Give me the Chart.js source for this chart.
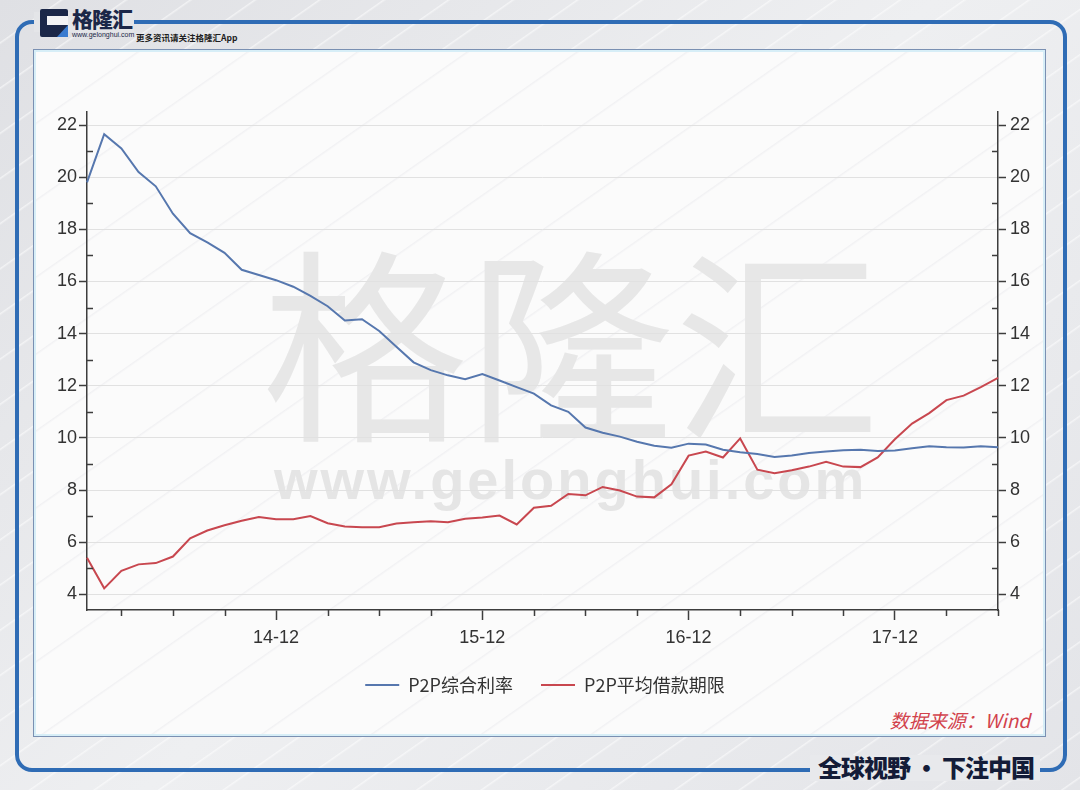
<!DOCTYPE html>
<html>
<head>
<meta charset="utf-8">
<script src="https://cdn.jsdelivr.net/npm/chart.js@4.4.1/dist/chart.umd.min.js"></script>
<style>
  html, body { margin: 0; padding: 0; }
  body {
    width: 1080px; height: 790px; position: relative; overflow: hidden;
    background-color: #e6e7ea;
    background-image:
      repeating-linear-gradient(145deg, rgba(255,255,255,0) 0px, rgba(255,255,255,0) 34px, rgba(255,255,255,0.55) 35px, rgba(255,255,255,0) 37px),
      linear-gradient(135deg, #dfe0e4 0%, #eeeff1 50%, #e3e4e8 100%);
    font-family: "Noto Sans CJK SC", "Liberation Sans", sans-serif;
  }
  .abs { position: absolute; }
  #frame { left: 15px; top: 20px; width: 1044px; height: 744px; border: 4px solid #2f6cb5; border-radius: 17px; }
  #inner { left: 33px; top: 49px; width: 1011px; height: 686px; border: 1.5px solid #7a90b2;
           box-shadow: inset 0 0 0 2px #d7eef7; background: #fbfbfb;
           background-image: repeating-linear-gradient(145deg, rgba(235,235,238,0) 0px, rgba(235,235,238,0) 60px, rgba(232,232,236,0.5) 61px, rgba(235,235,238,0) 63px); }
  #wm1 { left: 262px; top: 232px; font-family: "Noto Sans CJK SC"; font-size: 206px; line-height: 1; color: #e7e7e7; font-weight: 400; white-space: nowrap; }
  #wm2 { left: 274px; top: 446px; font-family: "Liberation Sans", Arial, sans-serif; font-weight: bold; font-size: 56px; letter-spacing: 3px; line-height: 1.2; color: #e5e5e5; white-space: nowrap; }
  #cover1 { left: 34px; top: 12px; width: 100px; height: 20px; background: #e4e5e8; }
  #cover2 { left: 810px; top: 755px; width: 230px; height: 26px; background: #e8e9ec; }
  #icon { left: 40px; top: 9px; width: 28px; height: 28px; background: #1b2748; border-radius: 2px; }
  #iconIn { left: 47px; top: 16px; width: 21px; height: 9px; background: #f3f3f5; }
  #iconTri { left: 57px; top: 25px; width: 0; height: 0; border-left: 11px solid transparent; border-bottom: 12px solid #3a7bd0; }
  #logoText { left: 72px; top: 6px; font-size: 21px; font-weight: 900; color: #1b2748; line-height: 1.2; letter-spacing: -1px; white-space: nowrap; }
  #logoUrl { left: 72px; top: 31px; font-size: 7px; font-family: "Liberation Sans", sans-serif; color: #1b2748; white-space: nowrap; }
  #logoSub { left: 136px; top: 32px; font-size: 8.5px; font-weight: 700; color: #1e1e22; white-space: nowrap; line-height: 1.2; }
  #slogan { left: 818px; top: 751px; font-size: 24px; font-weight: 900; color: #141c38; white-space: nowrap; line-height: 1.3; letter-spacing: -1px; }
  #source { right: 50px; top: 708px; font-size: 19px; font-style: italic; color: #d2424c; white-space: nowrap; line-height: 1.3; }
  canvas { position: absolute; left: 0; top: 0; }
</style>
</head>
<body>
<div id="frame" class="abs"></div>
<div id="cover1" class="abs"></div>
<div id="cover2" class="abs"></div>
<div id="inner" class="abs"></div>
<div id="wm1" class="abs">格隆汇</div>
<div id="wm2" class="abs">www.gelonghui.com</div>
<div id="icon" class="abs"></div>
<div id="iconIn" class="abs"></div>
<div id="iconTri" class="abs"></div>
<div id="logoText" class="abs">格隆汇</div>
<div id="logoUrl" class="abs">www.gelonghui.com</div>
<div id="logoSub" class="abs">更多资讯请关注格隆汇App</div>
<div id="source" class="abs">数据来源：Wind</div>
<div id="slogan" class="abs">全球视野 • 下注中国</div>
<canvas id="c" width="1080" height="790"></canvas>
<script>
// ---- data ----
const months = [
  '14-01','14-02','14-03','14-04','14-05','14-06','14-07','14-08','14-09','14-10','14-11','14-12',
  '15-01','15-02','15-03','15-04','15-05','15-06','15-07','15-08','15-09','15-10','15-11','15-12',
  '16-01','16-02','16-03','16-04','16-05','16-06','16-07','16-08','16-09','16-10','16-11','16-12',
  '17-01','17-02','17-03','17-04','17-05','17-06','17-07','17-08','17-09','17-10','17-11','17-12',
  '18-01','18-02','18-03','18-04','18-05','18-06'
];
const xTickLabels = ['14-12','15-12','16-12','17-12'];
const rateName = 'P2P综合利率';
const rateValues = [
  19.8, 21.65, 21.1, 20.2, 19.65, 18.6, 17.85, 17.5, 17.1, 16.45, 16.25, 16.05,
  15.8, 15.45, 15.05, 14.5, 14.55, 14.1, 13.5, 12.9, 12.6, 12.4, 12.25, 12.45,
  12.2, 11.95, 11.7, 11.25, 11.0, 10.4, 10.2, 10.05, 9.85, 9.7, 9.62, 9.78,
  9.75, 9.55, 9.45, 9.38, 9.27, 9.33, 9.42, 9.48, 9.53, 9.55, 9.5, 9.52,
  9.6, 9.68, 9.64, 9.63, 9.68, 9.64
];
const termName = 'P2P平均借款期限';
const termValues = [
  5.4, 4.23, 4.9, 5.15, 5.2, 5.45, 6.15, 6.45, 6.65, 6.82, 6.97, 6.88,
  6.88, 7.0, 6.73, 6.6, 6.57, 6.57, 6.72, 6.77, 6.8, 6.77, 6.9, 6.95,
  7.02, 6.68, 7.32, 7.4, 7.85, 7.8, 8.12, 7.98, 7.75, 7.72, 8.22, 9.32,
  9.48, 9.25, 9.98, 8.78, 8.65, 8.76, 8.9, 9.08, 8.9, 8.88, 9.25, 9.95,
  10.55, 10.95, 11.45, 11.62, 11.95, 12.3
];
const yMajorTicks = [4, 6, 8, 10, 12, 14, 16, 18, 20, 22];
const yMinorTicks = [5, 7, 9, 11, 13, 15, 17, 19, 21];
const yMin = 3.4, yMax = 22.5;

const BLUE = '#5677ae';
const RED = '#c8474f';
const AXIS = '#3d3d3d';

const minorTicksPlugin = {
  id: 'minorTicks',
  afterDraw(chart) {
    const { ctx, scales } = chart;
    const x = scales.x, yl = scales.y, yr = scales.y1;
    ctx.save();
    ctx.strokeStyle = AXIS;
    ctx.lineWidth = 1.5;
    ctx.beginPath();
    months.forEach((m, i) => {
      if (i % 3 === 2 && !xTickLabels.includes(m)) {
        const px = Math.round(x.getPixelForValue(i)) + 0.5;
        ctx.moveTo(px, x.top);
        ctx.lineTo(px, x.top + 6);
      }
    });
    yMinorTicks.forEach(v => {
      const pl = Math.round(yl.getPixelForValue(v)) + 0.5;
      ctx.moveTo(yl.right, pl); ctx.lineTo(yl.right + 6, pl);
      const pr = Math.round(yr.getPixelForValue(v)) + 0.5;
      ctx.moveTo(yr.left - 6, pr); ctx.lineTo(yr.left, pr);
    });
    ctx.stroke();
    ctx.restore();
  }
};

const tickFont = { family: '"Liberation Sans", Arial, sans-serif', size: 18 };

new Chart(document.getElementById('c'), {
  type: 'line',
  data: {
    labels: months,
    datasets: [
      { label: rateName, data: rateValues, borderColor: BLUE, backgroundColor: BLUE, borderWidth: 2,
        pointRadius: 0, tension: 0, yAxisID: 'y' },
      { label: termName, data: termValues, borderColor: RED, backgroundColor: RED, borderWidth: 2,
        pointRadius: 0, tension: 0, yAxisID: 'y1' }
    ]
  },
  options: {
    responsive: false,
    animation: false,
    devicePixelRatio: 1,
    layout: { padding: { left: 50, right: 40, top: 112, bottom: 86 } },
    plugins: {
      tooltip: { enabled: false },
      legend: {
        position: 'bottom',
        labels: {
          boxWidth: 34, boxHeight: 2, padding: 28, color: '#333',
          font: { family: '"Noto Sans CJK SC", sans-serif', size: 18 },
          generateLabels: (chart) => Chart.defaults.plugins.legend.labels.generateLabels(chart)
            .map(l => Object.assign(l, { lineWidth: 0, fillStyle: l.strokeStyle }))
        }
      }
    },
    scales: {
      x: {
        type: 'category',
        offset: false,
        afterFit: (s) => { s.height = 38; },
        border: { color: AXIS, width: 1.5 },
        grid: { drawOnChartArea: false, drawTicks: true, tickLength: 10, tickColor: AXIS, tickWidth: 1.5, color: AXIS },
        ticks: {
          autoSkip: false, maxRotation: 0, minRotation: 0, padding: 7, color: '#333', font: tickFont,
          callback: (v, i) => xTickLabels.includes(months[i]) ? months[i] : null
        }
      },
      y: {
        position: 'left', min: yMin, max: yMax,
        afterFit: (s) => { s.width = 37; },
        afterBuildTicks: (s) => { s.ticks = yMajorTicks.map(v => ({ value: v })); },
        border: { color: AXIS, width: 1.5 },
        grid: { color: '#e1e1e1', lineWidth: 1, tickLength: 8, tickColor: AXIS, tickWidth: 1.5 },
        ticks: { padding: 2, color: '#333', font: tickFont }
      },
      y1: {
        position: 'right', min: yMin, max: yMax,
        afterFit: (s) => { s.width = 42; },
        afterBuildTicks: (s) => { s.ticks = yMajorTicks.map(v => ({ value: v })); },
        border: { color: AXIS, width: 1.5 },
        grid: { drawOnChartArea: false, tickLength: 8, tickColor: AXIS, tickWidth: 1.5 },
        ticks: { padding: 4, color: '#333', font: tickFont }
      }
    }
  },
  plugins: [minorTicksPlugin]
});
</script>
</body>
</html>
